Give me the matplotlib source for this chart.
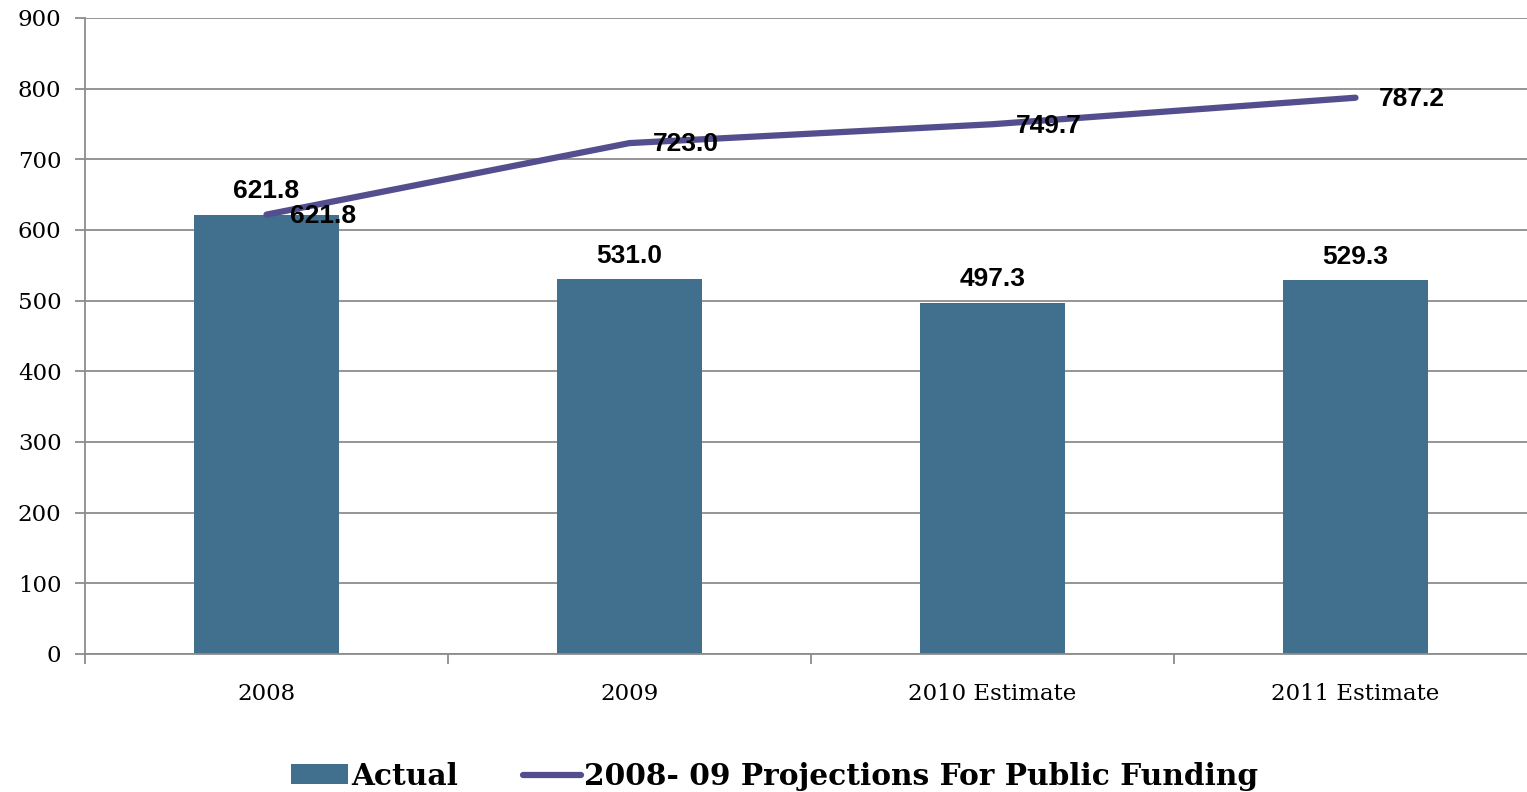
import matplotlib.pyplot as plt

# data
categories = ['2008', '2009', '2010 Estimate', '2011 Estimate']
actual = [621.8, 531.0, 497.3, 529.3]
projections = [621.8, 723.0, 749.7, 787.2]

bar_color = '#41708F'
line_color = '#534F8E'
grid_color = '#8C8C8C'

fig = plt.figure(figsize=(15.27, 7.92), dpi=100)
ax = fig.add_axes([85 / 1527, 138 / 792, 1452 / 1527, 636 / 792])

x = list(range(len(categories)))
bars = ax.bar(x, actual, width=0.4, color=bar_color, label='Actual', zorder=2)
line, = ax.plot(x, projections, color=line_color, lw=4.5, solid_capstyle='round',
                label='2008- 09 Projections For Public Funding', zorder=3)

# labels on bars
for xi, v in zip(x, actual):
    ax.annotate(f'{v:.1f}', (xi, v), xytext=(0, 8), textcoords='offset points',
                ha='center', va='bottom', fontsize=19, fontweight='bold',
                family='Liberation Sans', zorder=4)
# labels on line
for xi, v in zip(x, projections):
    ax.annotate(f'{v:.1f}', (xi, v), xytext=(17, -1), textcoords='offset points',
                ha='left', va='center', fontsize=19, fontweight='bold',
                family='Liberation Sans', zorder=4)

ax.set_xlim(-0.5, 3.5)
ax.set_ylim(0, 900)
ax.set_yticks(range(0, 901, 100))
ax.yaxis.grid(True, color=grid_color, lw=1.3, zorder=0)
ax.set_axisbelow(True)

ax.set_xticks(x)
ax.set_xticklabels(categories, family='DejaVu Serif', fontsize=16.5)
ax.set_xticks([-0.5, 0.5, 1.5, 2.5, 3.5], minor=True)
ax.tick_params(axis='x', which='major', length=0, pad=21)
ax.tick_params(axis='x', which='minor', length=7, width=1.3, color=grid_color)
ax.tick_params(axis='y', length=7, width=1.3, color=grid_color, pad=10)
for lab in ax.get_yticklabels():
    lab.set_family('DejaVu Serif')
    lab.set_fontsize(16.5)

for s in ['top', 'right']:
    ax.spines[s].set_visible(False)
for s in ['left', 'bottom']:
    ax.spines[s].set_color(grid_color)
    ax.spines[s].set_linewidth(1.3)

fig.legend(handles=[bars, line], loc='lower center', bbox_to_anchor=(0.507, -0.032),
           ncol=2, frameon=False, handlelength=1.95, handleheight=0.65,
           handletextpad=0.1, columnspacing=2.2,
           prop={'family': 'DejaVu Serif', 'weight': 'bold', 'size': 21.3})

fig.savefig('out.png', dpi=100)
